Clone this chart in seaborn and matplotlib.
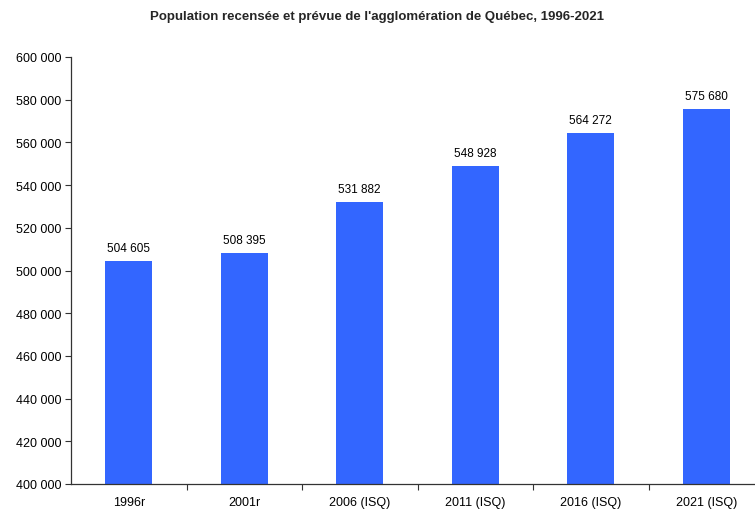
import matplotlib
matplotlib.use("Agg")
import matplotlib.pyplot as plt
from matplotlib.ticker import FuncFormatter, FixedLocator
import seaborn as sns
import pandas as pd

categories = ["1996r", "2001r", "2006 (ISQ)", "2011 (ISQ)", "2016 (ISQ)", "2021 (ISQ)"]
population = [504605, 508395, 531882, 548928, 564272, 575680]
title = "Population recensée et prévue de l'agglomération de Québec, 1996-2021"

sns.set_theme(style="white")
plt.rcParams["font.family"] = ["Liberation Sans", "DejaVu Sans"]

df = pd.DataFrame({"categorie": categories, "population": population})

fig = plt.figure(figsize=(7.55, 5.10), dpi=100)
ax = fig.add_axes([71 / 755, 25 / 510, 693 / 755, 427 / 510])

sns.barplot(data=df, x="categorie", y="population", color="#3366FF",
            saturation=1, width=0.41, linewidth=0, ax=ax)

ax.set_ylim(400000, 600000)
ax.set_xlim(-0.5, len(categories) - 0.5)
ax.yaxis.set_major_locator(FixedLocator(range(400000, 600001, 20000)))
ax.yaxis.set_major_formatter(FuncFormatter(lambda v, p: f"{int(v):,}".replace(",", " ")))

ax.set_xlabel("")
ax.set_ylabel("")

# tick marks between categories, labels centred under bars
ax.set_xticks([i + 0.5 for i in range(len(categories) - 1)], minor=True)
ax.tick_params(axis="x", which="major", length=0, labelsize=9, colors="black", pad=9)
ax.tick_params(axis="x", which="minor", length=4, width=0.8, color="#333333", direction="out", bottom=True)
ax.tick_params(axis="y", which="major", length=4, width=0.8, color="#333333", direction="out", left=True,
               labelsize=9, labelcolor="black", pad=3)

for side in ["top", "right"]:
    ax.spines[side].set_visible(False)
for side in ["left", "bottom"]:
    ax.spines[side].set_color("#333333")
    ax.spines[side].set_linewidth(0.9)

for i, v in enumerate(population):
    ax.annotate(f"{v:,}".replace(",", " "), (i, v), xytext=(0, 5), textcoords="offset points",
                ha="center", va="bottom", fontsize=8.5, color="black")

fig.text(0.5, 1 - 17 / 510, title, ha="center", va="center", fontsize=9.5, fontweight="bold")

fig.savefig("out.png", dpi=100)
